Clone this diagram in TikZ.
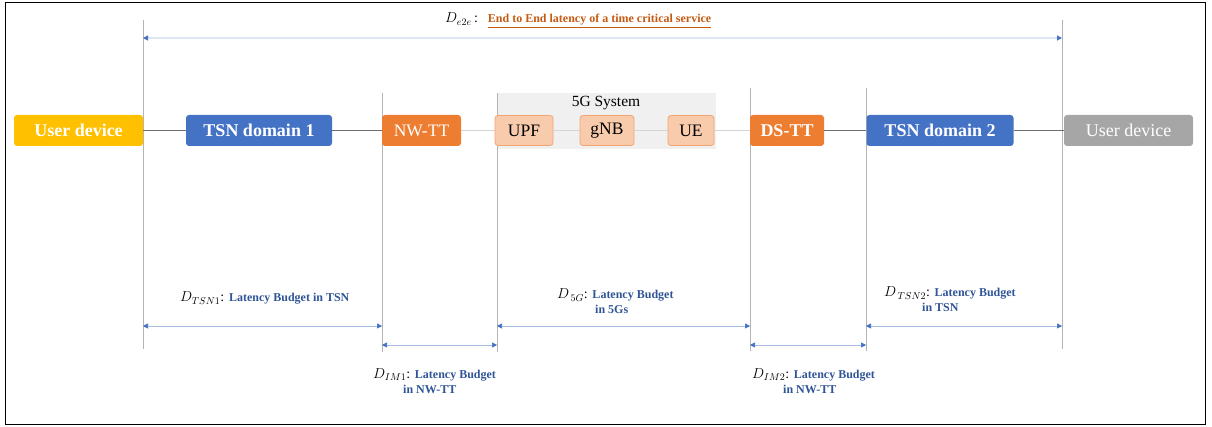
\documentclass[tikz,border=0pt]{standalone}
\usepackage{fontspec}
\setmainfont{Liberation Serif}
\usetikzlibrary{arrows.meta}
\definecolor{udyellow}{HTML}{FFC000}
\definecolor{tsnblue}{HTML}{4472C4}
\definecolor{ttorange}{HTML}{ED7D31}
\definecolor{subfill}{HTML}{F8CBAD}
\definecolor{subdraw}{HTML}{F4A46E}
\definecolor{sysfill}{HTML}{F0F0F0}
\definecolor{udgray}{HTML}{A6A6A6}
\definecolor{vgray}{HTML}{B4B4B4}
\definecolor{condark}{HTML}{6E6E6E}
\definecolor{conlight}{HTML}{D4D4D4}
\definecolor{dimline}{HTML}{A9BEE4}
\definecolor{dimtop}{HTML}{DCE6F4}
\definecolor{dimblue}{HTML}{4472C4}
\definecolor{lblblue}{HTML}{2F5597}
\definecolor{e2eorange}{HTML}{C55A11}
\begin{document}
\begin{tikzpicture}[x=1pt,y=-1pt,
  box/.style={rounded corners=3pt, inner sep=0pt, minimum height=31pt, text=white, draw=none},
  bigbold/.style={font=\fontsize{18}{20}\selectfont\bfseries},
  bigreg/.style={font=\fontsize{17.5}{20}\selectfont},
  subbox/.style={rounded corners=3pt, inner sep=0pt, minimum height=30pt, fill=subfill, draw=subdraw, line width=0.8pt, font=\fontsize{17.5}{20}\selectfont},
  vline/.style={draw=vgray, line width=0.7pt},
  dimarrow/.style={draw=dimline, line width=0.7pt, {Triangle[length=5pt,width=5pt,color=dimblue]}-{Triangle[length=5pt,width=5pt,color=dimblue]}},
  toparrow/.style={draw=dimtop, line width=1.2pt, {Triangle[length=5pt,width=5pt,color=dimblue]}-{Triangle[length=5pt,width=5pt,color=dimblue]}},
  lbl/.style={inner sep=0pt, anchor=base west, font=\fontsize{12}{14}\selectfont\bfseries, text=lblblue},
  dlbl/.style={inner sep=0pt, anchor=base west, font=\fontsize{14}{16}\selectfont},
  condk/.style={draw=condark, line width=0.9pt},
  conlt/.style={draw=conlight, line width=0.9pt},
]
\useasboundingbox (0,0) rectangle (1212,427);
\draw[black, line width=1pt] (5,3) rectangle (1205,424);

% vertical reference lines
\coordinate (v1t) at (143,20);  \coordinate (v1b) at (143,349);
\coordinate (v2t) at (382,93);  \coordinate (v2b) at (382,352);
\coordinate (v3t) at (497,93);  \coordinate (v3b) at (497,352);
\coordinate (v4t) at (750,88);  \coordinate (v4b) at (750,351);
\coordinate (v5t) at (866,88);  \coordinate (v5b) at (866,351);
\coordinate (v6t) at (1062,20); \coordinate (v6b) at (1062,349);

% 5G system background
\node[fill=sysfill, draw=none, minimum width=219pt, minimum height=56pt, inner sep=0pt] (sys) at (606,121) {};

\foreach \v in {1,...,6} {\draw[vline] (v\v t) -- (v\v b);}

% boxes
\node[box, fill=udyellow, minimum width=129pt, bigbold] (ud1) at (78.5,130.5) {User device};
\node[box, fill=tsnblue, minimum width=146pt, bigbold] (tsn1) at (259,130.5) {TSN domain 1};
\node[box, fill=ttorange, minimum width=79pt, bigreg] (nwtt) at (421.5,130.5) {NW-TT};
\node[font=\fontsize{15.5}{18}\selectfont, inner sep=0pt] (systxt) at (606,103) {5G System};
\node[subbox, minimum width=58pt] (upf) at (524,130.5) {UPF};
\node[subbox, minimum width=54pt] (gnb) at (607,130.5) {gNB};
\node[subbox, minimum width=46pt] (ue) at (691,130.5) {UE};
\node[box, fill=ttorange, minimum width=74pt, bigbold] (dstt) at (787,130.5) {DS-TT};
\node[box, fill=tsnblue, minimum width=147pt, bigbold] (tsn2) at (940,130.5) {TSN domain 2};
\node[box, fill=udgray, minimum width=129pt, font=\fontsize{18}{20}\selectfont] (ud2) at (1128.5,130.5) {User device};

% connectors
\draw[condk] (ud1) -- (tsn1);
\draw[condk] (tsn1) -- (nwtt);
\draw[conlt] (nwtt) -- (upf);
\draw[conlt] (upf) -- (gnb);
\draw[conlt] (gnb) -- (ue);
\draw[conlt] (ue) -- (dstt);
\draw[condk] (dstt) -- (tsn2);
\draw[condk] (tsn2) -- (ud2);

% dimension arrows
\coordinate (t1) at (143,38); \coordinate (t2) at (1062,38);
\draw[toparrow] (t1) -- (t2);
\coordinate (a1) at (143,326); \coordinate (a2) at (382,326);
\coordinate (a3) at (497,326); \coordinate (a4) at (750,326);
\coordinate (a5) at (866,326); \coordinate (a6) at (1062,326);
\coordinate (b1) at (382,345); \coordinate (b2) at (497,345);
\coordinate (b3) at (750,345); \coordinate (b4) at (866,345);
\draw[dimarrow] (a1) -- (a2);
\draw[dimarrow] (a3) -- (a4);
\draw[dimarrow] (a5) -- (a6);
\draw[dimarrow] (b1) -- (b2);
\draw[dimarrow] (b3) -- (b4);

% labels
\node[dlbl] (le2e) at (445,23) {$D_{e2e}$\,:\hspace{10pt}{\fontsize{12}{14}\selectfont\bfseries\color{e2eorange}\underline{End to End latency of a time critical service}}};

\node[dlbl] (ltsn1) at (180,302) {$D_{TSN1}$: {\fontsize{12}{14}\selectfont\bfseries\color{lblblue}Latency Budget in TSN}};

\node[dlbl] (l5g) at (557,299) {$D_{\,5G}$: {\fontsize{12}{14}\selectfont\bfseries\color{lblblue}Latency Budget}};
\node[lbl] (l5gb) at (595,314) {in 5Gs};

\node[dlbl] (ltsn2) at (884,297) {$D_{\,TSN2}$: {\fontsize{12}{14}\selectfont\bfseries\color{lblblue}Latency Budget}};
\node[lbl] (ltsn2b) at (922,312) {in TSN};

\node[dlbl] (lim1) at (373,378) {$D_{IM1}$: {\fontsize{12}{14}\selectfont\bfseries\color{lblblue}Latency Budget}};
\node[lbl] (lim1b) at (403,393) {in NW-TT};

\node[dlbl] (lim2) at (752,378) {$D_{IM2}$: {\fontsize{12}{14}\selectfont\bfseries\color{lblblue}Latency Budget}};
\node[lbl] (lim2b) at (783,393) {in NW-TT};
\end{tikzpicture}
\end{document}
